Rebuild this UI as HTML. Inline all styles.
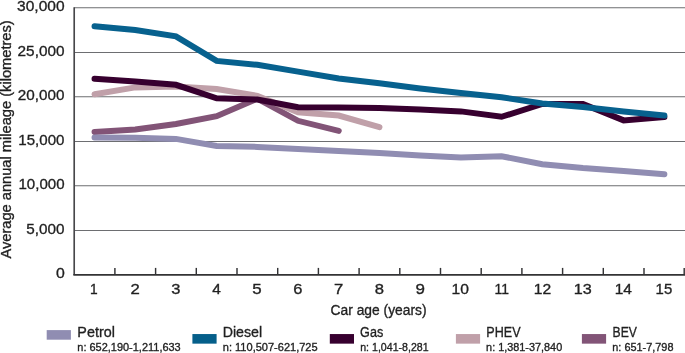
<!DOCTYPE html>
<html><head><meta charset="utf-8"><style>
html,body{margin:0;padding:0;background:#fff;}
body{width:685px;height:353px;overflow:hidden;}
svg{display:block;}
text{font-family:"Liberation Sans",sans-serif;fill:#231f20;stroke:#231f20;stroke-width:0.35px;}
</style></head><body>
<svg width="685" height="353" viewBox="0 0 685 353">
<line x1="74.2" y1="7.8" x2="685" y2="7.8" stroke="#6d6e71" stroke-width="1.1"/>
<line x1="74.2" y1="52.5" x2="685" y2="52.5" stroke="#6d6e71" stroke-width="1.1"/>
<line x1="74.2" y1="96.8" x2="685" y2="96.8" stroke="#6d6e71" stroke-width="1.1"/>
<line x1="74.2" y1="141.45" x2="685" y2="141.45" stroke="#6d6e71" stroke-width="1.1"/>
<line x1="74.2" y1="185.8" x2="685" y2="185.8" stroke="#6d6e71" stroke-width="1.1"/>
<line x1="74.2" y1="230.45" x2="685" y2="230.45" stroke="#6d6e71" stroke-width="1.1"/>
<line x1="74.2" y1="7.2" x2="74.2" y2="274.9" stroke="#47474a" stroke-width="1.65"/>
<line x1="73.35000000000001" y1="274.9" x2="685" y2="274.9" stroke="#333335" stroke-width="1.9"/>
<line x1="114.90" y1="267.9" x2="114.90" y2="274.9" stroke="#333335" stroke-width="1.45"/>
<line x1="155.60" y1="267.9" x2="155.60" y2="274.9" stroke="#333335" stroke-width="1.45"/>
<line x1="196.30" y1="267.9" x2="196.30" y2="274.9" stroke="#333335" stroke-width="1.45"/>
<line x1="237.00" y1="267.9" x2="237.00" y2="274.9" stroke="#333335" stroke-width="1.45"/>
<line x1="277.70" y1="267.9" x2="277.70" y2="274.9" stroke="#333335" stroke-width="1.45"/>
<line x1="318.40" y1="267.9" x2="318.40" y2="274.9" stroke="#333335" stroke-width="1.45"/>
<line x1="359.10" y1="267.9" x2="359.10" y2="274.9" stroke="#333335" stroke-width="1.45"/>
<line x1="399.80" y1="267.9" x2="399.80" y2="274.9" stroke="#333335" stroke-width="1.45"/>
<line x1="440.50" y1="267.9" x2="440.50" y2="274.9" stroke="#333335" stroke-width="1.45"/>
<line x1="481.20" y1="267.9" x2="481.20" y2="274.9" stroke="#333335" stroke-width="1.45"/>
<line x1="521.90" y1="267.9" x2="521.90" y2="274.9" stroke="#333335" stroke-width="1.45"/>
<line x1="562.60" y1="267.9" x2="562.60" y2="274.9" stroke="#333335" stroke-width="1.45"/>
<line x1="603.30" y1="267.9" x2="603.30" y2="274.9" stroke="#333335" stroke-width="1.45"/>
<line x1="644.00" y1="267.9" x2="644.00" y2="274.9" stroke="#333335" stroke-width="1.45"/>
<line x1="684.20" y1="267.9" x2="684.20" y2="274.9" stroke="#333335" stroke-width="1.45"/>
<polyline points="94.55,131.9 135.25,129.4 175.95,124.0 216.65,116.2 257.35,98.6 298.05,120.8 338.75,130.9" fill="none" stroke="#825477" stroke-width="6.0" stroke-linecap="round" stroke-linejoin="miter" stroke-miterlimit="4"/>
<polyline points="94.55,94.2 135.25,87.4 175.95,86.6 216.65,89.0 257.35,95.8 298.05,112.3 338.75,115.5 379.45,127.2" fill="none" stroke="#c0a0a9" stroke-width="6.0" stroke-linecap="round" stroke-linejoin="miter" stroke-miterlimit="4"/>
<polyline points="94.55,78.8 135.25,81.4 175.95,84.8 216.65,98.3 257.35,99.5 298.05,107.2 338.75,107.4 379.45,108.0 420.15,109.6 460.85,111.4 501.55,116.8 542.25,104.0 582.95,104.0 623.65,120.4 664.35,117.1" fill="none" stroke="#37002f" stroke-width="6.0" stroke-linecap="round" stroke-linejoin="miter" stroke-miterlimit="4"/>
<polyline points="94.55,26.3 135.25,30.1 175.95,36.4 216.65,60.9 257.35,64.8 298.05,71.6 338.75,78.5 379.45,83.2 420.15,88.5 460.85,93.0 501.55,97.3 542.25,103.4 582.95,107.1 623.65,111.5 664.35,115.6" fill="none" stroke="#07618e" stroke-width="6.0" stroke-linecap="round" stroke-linejoin="miter" stroke-miterlimit="4"/>
<polyline points="94.55,137.5 135.25,137.8 175.95,138.9 216.65,145.9 257.35,146.9 298.05,149.0 338.75,151.1 379.45,152.9 420.15,155.4 460.85,157.6 501.55,156.2 542.25,164.2 582.95,168.1 623.65,170.9 664.35,174.2" fill="none" stroke="#908db2" stroke-width="6.0" stroke-linecap="round" stroke-linejoin="miter" stroke-miterlimit="4"/>
<rect x="46.7" y="330.1" width="24.2" height="9.6" fill="#908db2"/>
<rect x="192.4" y="334.05" width="24.2" height="9.6" fill="#055f8a"/>
<rect x="329.8" y="334.05" width="24.2" height="9.6" fill="#37002f"/>
<rect x="455.9" y="334.05" width="24.2" height="9.6" fill="#c0a0a9"/>
<rect x="581.9" y="334.05" width="24.2" height="9.6" fill="#825477"/>
<g style="filter:grayscale(1)">
<text x="17.12" y="11.00" font-size="15.30" textLength="47.48" lengthAdjust="spacingAndGlyphs">30,000</text>
<text x="17.59" y="56.00" font-size="15.30" textLength="47.00" lengthAdjust="spacingAndGlyphs">25,000</text>
<text x="17.83" y="100.00" font-size="15.30" textLength="46.63" lengthAdjust="spacingAndGlyphs">20,000</text>
<text x="18.35" y="145.00" font-size="15.30" textLength="46.12" lengthAdjust="spacingAndGlyphs">15,000</text>
<text x="18.49" y="189.00" font-size="15.30" textLength="46.07" lengthAdjust="spacingAndGlyphs">10,000</text>
<text x="26.37" y="234.00" font-size="15.30" textLength="38.19" lengthAdjust="spacingAndGlyphs">5,000</text>
<text x="55.91" y="278.00" font-size="15.30" textLength="8.80" lengthAdjust="spacingAndGlyphs">0</text>
<text x="89.88" y="294.00" font-size="15.00" textLength="7.66" lengthAdjust="spacingAndGlyphs">1</text>
<text x="130.62" y="294.00" font-size="15.00" textLength="9.30" lengthAdjust="spacingAndGlyphs">2</text>
<text x="171.19" y="294.00" font-size="15.00" textLength="9.17" lengthAdjust="spacingAndGlyphs">3</text>
<text x="212.33" y="294.00" font-size="15.00" textLength="8.61" lengthAdjust="spacingAndGlyphs">4</text>
<text x="252.36" y="294.00" font-size="15.00" textLength="9.36" lengthAdjust="spacingAndGlyphs">5</text>
<text x="293.17" y="294.00" font-size="15.00" textLength="9.15" lengthAdjust="spacingAndGlyphs">6</text>
<text x="333.91" y="294.00" font-size="15.00" textLength="9.24" lengthAdjust="spacingAndGlyphs">7</text>
<text x="374.66" y="294.00" font-size="15.00" textLength="9.23" lengthAdjust="spacingAndGlyphs">8</text>
<text x="415.63" y="294.00" font-size="15.00" textLength="9.43" lengthAdjust="spacingAndGlyphs">9</text>
<text x="451.61" y="294.00" font-size="15.00" textLength="17.37" lengthAdjust="spacingAndGlyphs">10</text>
<text x="494.44" y="294.00" font-size="15.00" textLength="14.43" lengthAdjust="spacingAndGlyphs">11</text>
<text x="533.78" y="294.00" font-size="15.00" textLength="17.41" lengthAdjust="spacingAndGlyphs">12</text>
<text x="573.78" y="294.00" font-size="15.00" textLength="17.98" lengthAdjust="spacingAndGlyphs">13</text>
<text x="614.71" y="294.00" font-size="15.00" textLength="17.26" lengthAdjust="spacingAndGlyphs">14</text>
<text x="655.62" y="294.00" font-size="15.00" textLength="16.57" lengthAdjust="spacingAndGlyphs">15</text>
<text x="330.55" y="315.00" font-size="15.10" textLength="95.99" lengthAdjust="spacingAndGlyphs">Car age (years)</text>
<text x="77.36" y="337.00" font-size="15.40" textLength="37.48" lengthAdjust="spacingAndGlyphs">Petrol</text>
<text x="77.32" y="351.00" font-size="11.60" textLength="103.41" lengthAdjust="spacingAndGlyphs">n: 652,190-1,211,633</text>
<text x="222.70" y="337.00" font-size="15.40" textLength="39.48" lengthAdjust="spacingAndGlyphs">Diesel</text>
<text x="222.81" y="351.00" font-size="11.60" textLength="94.83" lengthAdjust="spacingAndGlyphs">n: 110,507-621,725</text>
<text x="360.12" y="337.00" font-size="15.40" textLength="23.10" lengthAdjust="spacingAndGlyphs">Gas</text>
<text x="360.22" y="351.00" font-size="11.60" textLength="68.36" lengthAdjust="spacingAndGlyphs">n: 1,041-8,281</text>
<text x="486.36" y="337.00" font-size="15.40" textLength="34.27" lengthAdjust="spacingAndGlyphs">PHEV</text>
<text x="486.10" y="351.00" font-size="11.60" textLength="76.11" lengthAdjust="spacingAndGlyphs">n: 1,381-37,840</text>
<text x="612.58" y="337.00" font-size="15.40" textLength="24.37" lengthAdjust="spacingAndGlyphs">BEV</text>
<text x="612.30" y="351.00" font-size="11.60" textLength="61.14" lengthAdjust="spacingAndGlyphs">n: 651-7,798</text>
<text transform="translate(11.10,258.58) rotate(-90)" font-size="14.40" textLength="238.31" lengthAdjust="spacingAndGlyphs">Average annual mileage (kilometres)</text>
</g>
</svg>
</body></html>
